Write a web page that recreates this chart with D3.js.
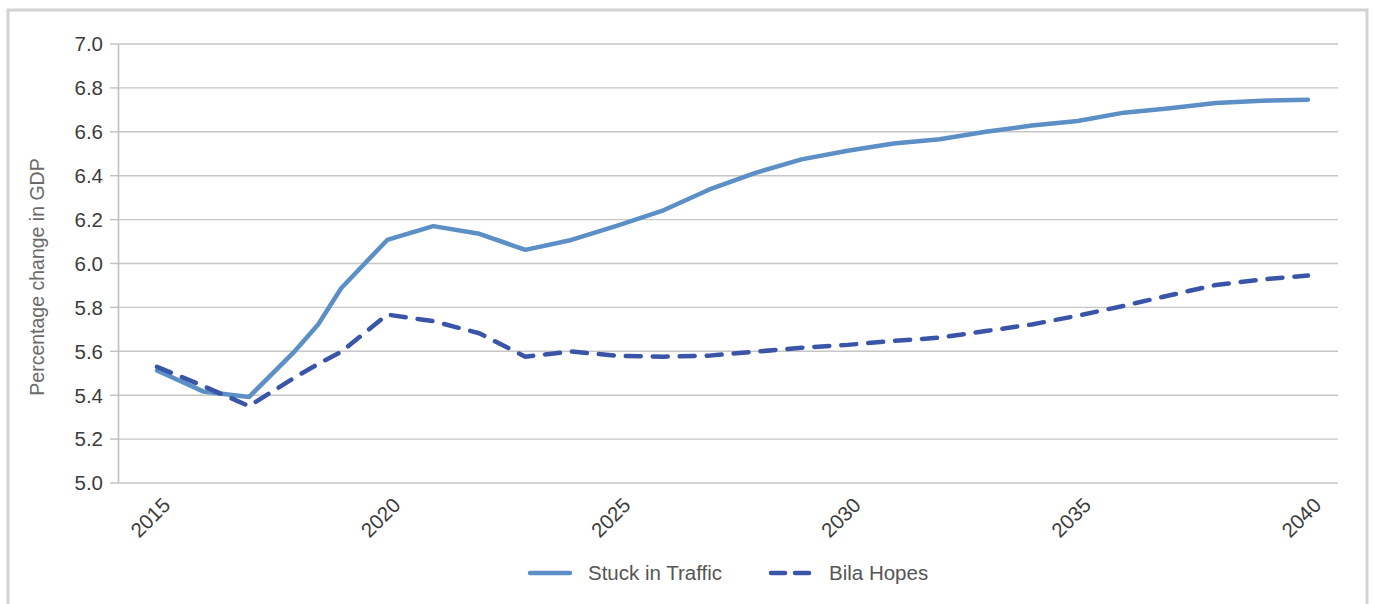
<!DOCTYPE html>
<html>
<head>
<meta charset="utf-8">
<script src="https://cdn.jsdelivr.net/npm/d3@7"></script>
<style>
  body { margin: 0; background: #fff; }
  svg text { font-family: "Liberation Sans", Arial, sans-serif; }
</style>
</head>
<body>
<div id="chart"></div>
<script>
// years (one extra reading at mid-2018 where the lines bend)
const years = [2015, 2016, 2017, 2018, 2018.5, 2019, 2020, 2021, 2022, 2023, 2024, 2025, 2026, 2027,
    2028, 2029, 2030, 2031, 2032, 2033, 2034, 2035, 2036, 2037, 2038, 2039, 2040];
const stuckInTraffic = [5.51, 5.415, 5.39, 5.60, 5.72, 5.885, 6.105, 6.168, 6.133, 6.06, 6.105, 6.17, 6.24, 6.335,
    6.411, 6.472, 6.511, 6.544, 6.564, 6.598, 6.626, 6.647, 6.685, 6.705, 6.729, 6.739, 6.744];
const bilaHopes = [5.527, 5.44, 5.348, 5.48, 5.54, 5.595, 5.765, 5.735, 5.68, 5.573, 5.597, 5.577, 5.573, 5.578,
    5.596, 5.614, 5.627, 5.645, 5.66, 5.69, 5.72, 5.76, 5.805, 5.853, 5.90, 5.925, 5.943];
const yTicks = [5.0, 5.2, 5.4, 5.6, 5.8, 6.0, 6.2, 6.4, 6.6, 6.8, 7.0];
const xTicks = [2015, 2020, 2025, 2030, 2035, 2040];
const seriesNames = ['Stuck in Traffic', 'Bila Hopes'];

const width = 1373;
const height = 604;
const plotLeft = 118, plotRight = 1338, plotTop = 43.5, plotBottom = 482.5;

const svg = d3.select('#chart')
    .append('svg')
    .attr('width', width)
    .attr('height', height);

// outer frame
svg.append('rect')
    .attr('x', 8)
    .attr('y', 10)
    .attr('width', 1359)
    .attr('height', 640)
    .attr('fill', 'none')
    .attr('stroke', '#d2d2d2')
    .attr('stroke-width', 3);

const x = d3.scaleLinear().domain([2015, 2040]).range([157, 1308]);
const y = d3.scaleLinear().domain([5, 7]).range([plotBottom, plotTop]);

// gridlines
svg.append('g')
    .attr('transform', `translate(${plotLeft},0)`)
    .call(d3.axisLeft(y).tickValues(yTicks).tickSize(-(plotRight - plotLeft)).tickFormat(''))
    .call(g => g.select('.domain').remove())
    .selectAll('line')
    .attr('stroke', '#c6c6c6')
    .attr('stroke-width', 1.4);

// y axis with small ticks
const yAxis = svg.append('g')
    .attr('transform', `translate(${plotLeft},0)`)
    .call(d3.axisLeft(y).tickValues(yTicks).tickSize(8).tickSizeOuter(0).tickPadding(7)
        .tickFormat(d3.format('.1f')));
yAxis.select('.domain').attr('stroke', '#c0c0c0').attr('stroke-width', 1.6);
yAxis.selectAll('line').attr('stroke', '#c0c0c0').attr('stroke-width', 1.4);
yAxis.selectAll('text')
    .attr('fill', '#3c3c3c')
    .attr('font-size', 20.5)
    .attr('dy', '0.36em');

// x labels, rotated
const xAxis = svg.append('g')
    .attr('transform', `translate(0,${plotBottom})`)
    .call(d3.axisBottom(x).tickValues(xTicks).tickSize(0).tickFormat(d3.format('d')));
xAxis.select('.domain').remove();
xAxis.selectAll('text')
    .attr('fill', '#3c3c3c')
    .attr('font-size', 20.5)
    .attr('text-anchor', 'end')
    .attr('dy', null)
    .attr('y', null)
    .attr('transform', 'translate(14,24) rotate(-45)');

// y title
svg.append('text')
    .attr('transform', 'translate(44,277) rotate(-90)')
    .attr('text-anchor', 'middle')
    .attr('fill', '#6a6a6a')
    .attr('font-size', 19.5)
    .text('Percentage change in GDP');

const line = d3.line()
    .x((d, i) => x(years[i]))
    .y(d => y(d));

svg.append('path')
    .datum(stuckInTraffic)
    .attr('d', line)
    .attr('fill', 'none')
    .attr('stroke', '#5b8fc5')
    .attr('stroke-width', 4.5)
    .attr('stroke-linejoin', 'round')
    .attr('stroke-linecap', 'round');

svg.append('path')
    .datum(bilaHopes)
    .attr('d', line)
    .attr('fill', 'none')
    .attr('stroke', '#3a55a8')
    .attr('stroke-width', 4.5)
    .attr('stroke-dasharray', '15 12')
    .attr('stroke-linejoin', 'round')
    .attr('stroke-linecap', 'round');

// legend
const legend = svg.append('g')
    .selectAll('g')
    .data(seriesNames)
    .enter().append('g')
    .attr('transform', (d, i) => `translate(${i === 0 ? 530 : 771},573)`);

legend.append('line')
    .attr('x1', 0)
    .attr('x2', 40)
    .attr('stroke', (d, i) => i === 0 ? '#5b8fc5' : '#3a55a8')
    .attr('stroke-width', 4.5)
    .attr('stroke-linecap', 'round')
    .attr('stroke-dasharray', (d, i) => i === 0 ? null : '14 10');

legend.append('text')
    .attr('x', 58)
    .attr('dy', '0.36em')
    .attr('fill', '#555')
    .attr('font-size', 20.5)
    .text(d => d);
</script>
</body>
</html>
